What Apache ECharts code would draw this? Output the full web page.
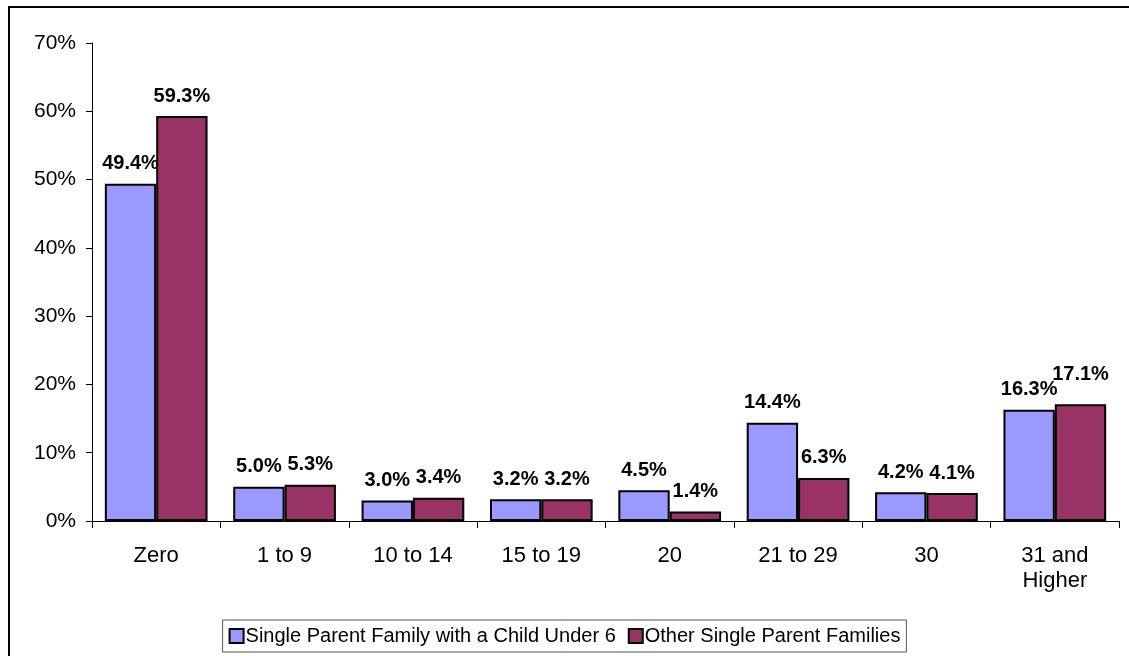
<!DOCTYPE html>
<html>
<head>
<meta charset="utf-8">
<script src="https://cdn.jsdelivr.net/npm/echarts@6/dist/echarts.min.js"></script>
<style>
  html, body { margin: 0; padding: 0; background: #fff; }
  #chart { width: 1129px; height: 656px; }
</style>
</head>
<body>
<div id="chart"></div>
<script>
var categories = ["Zero", "1 to 9", "10 to 14", "15 to 19", "20", "21 to 29", "30", "31 and\nHigher"];
var underSix = [49.4, 5.0, 3.0, 3.2, 4.5, 14.4, 4.2, 16.3];
var otherSingle = [59.3, 5.3, 3.4, 3.2, 1.4, 6.3, 4.1, 17.1];
var seriesNames = ["Single Parent Family with a Child Under 6", "Other Single Parent Families"];

var font = "Liberation Sans, Arial, sans-serif";
var chart = echarts.init(document.getElementById("chart"));

var labelStyle = {
  show: true,
  position: "top",
  distance: 10,
  color: "#000",
  fontFamily: font,
  fontWeight: "bold",
  fontSize: 20,
  formatter: function (p) { return p.value.toFixed(1) + "%"; }
};

// the last maroon label sits a bit higher so it clears its neighbour
var otherData = otherSingle.map(function (v, i) {
  return i === otherSingle.length - 1 ? { value: v, label: { offset: [0, -10] } } : v;
});

var option = {
  animation: false,
  textStyle: { fontFamily: font },
  graphic: [
    {
      type: "rect",
      shape: { x: 9, y: 7, width: 1140, height: 680 },
      style: { fill: "none", stroke: "#000", lineWidth: 2 },
      silent: true
    }
  ],
  grid: { left: 92, right: 10, top: 43, bottom: 135 },
  legend: {
    bottom: 4,
    left: "center",
    itemWidth: 14,
    itemHeight: 14,
    itemGap: 12,
    padding: [6, 6, 6, 6],
    borderColor: "#555",
    borderWidth: 1,
    borderRadius: 0,
    textStyle: { fontSize: 20, color: "#000", fontFamily: font, padding: [0, 0, 0, -3] },
    data: seriesNames.map(function (n) { return { name: n, icon: "rect" }; })
  },
  xAxis: {
    type: "category",
    data: categories,
    axisLine: { lineStyle: { color: "#000", width: 1 } },
    axisTick: { show: true, length: 7, lineStyle: { color: "#000" } },
    axisLabel: { color: "#000", fontSize: 22, margin: 22, lineHeight: 25, fontFamily: font }
  },
  yAxis: {
    type: "value",
    min: 0,
    max: 70,
    interval: 10,
    axisLine: { show: true, lineStyle: { color: "#000", width: 1 } },
    axisTick: { show: true, length: 6, lineStyle: { color: "#000" } },
    splitLine: { show: false },
    axisLabel: { color: "#000", fontSize: 21, margin: 16, fontFamily: font, formatter: "{value}%" }
  },
  series: [
    {
      name: seriesNames[0],
      type: "bar",
      data: underSix,
      barGap: "0%",
      barCategoryGap: "20%",
      itemStyle: { color: "#9999FF", borderColor: "#000", borderWidth: 2 },
      label: labelStyle
    },
    {
      name: seriesNames[1],
      type: "bar",
      data: otherData,
      barGap: "0%",
      barCategoryGap: "20%",
      itemStyle: { color: "#993366", borderColor: "#000", borderWidth: 2 },
      label: labelStyle
    }
  ]
};

chart.setOption(option);
</script>
</body>
</html>
